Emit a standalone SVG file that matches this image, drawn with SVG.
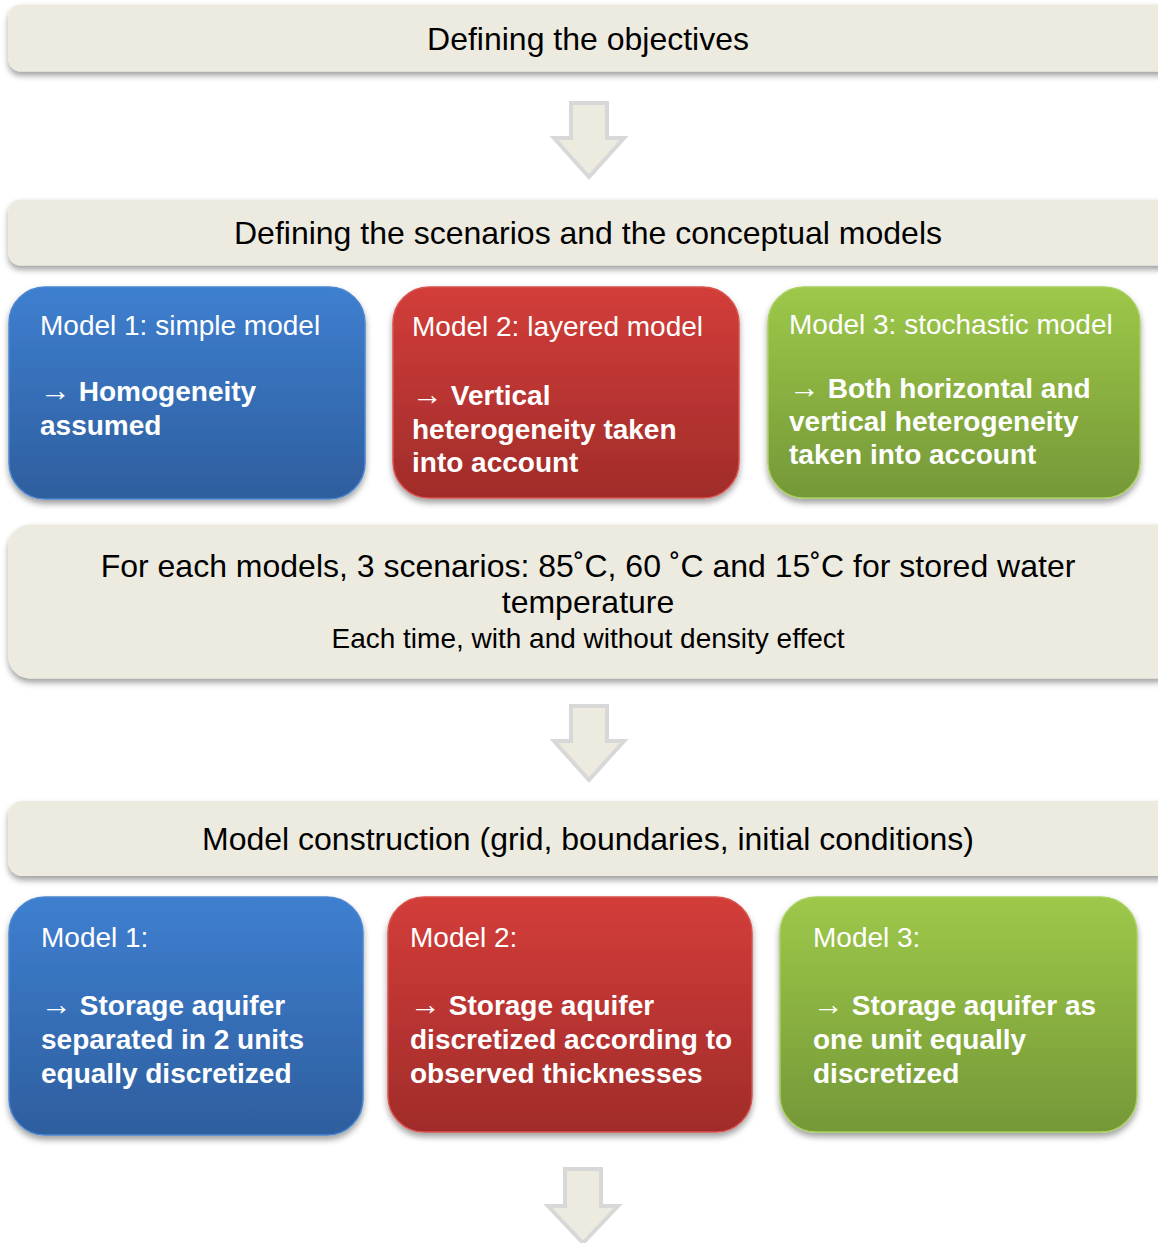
<svg xmlns="http://www.w3.org/2000/svg" width="1158" height="1243" viewBox="0 0 1158 1243">
  <defs>
    <filter id="shadow" x="-5%" y="-10%" width="110%" height="130%">
      <feDropShadow dx="0" dy="4" stdDeviation="3" flood-color="#000" flood-opacity="0.38"/>
    </filter>
    <linearGradient id="gBlue" x1="0" y1="0" x2="0" y2="1">
      <stop offset="0" stop-color="#3e7fd0"/>
      <stop offset="1" stop-color="#2e5e9e"/>
    </linearGradient>
    <linearGradient id="gRed" x1="0" y1="0" x2="0" y2="1">
      <stop offset="0" stop-color="#d33d39"/>
      <stop offset="1" stop-color="#a02c2a"/>
    </linearGradient>
    <linearGradient id="gGreen" x1="0" y1="0" x2="0" y2="1">
      <stop offset="0" stop-color="#9dc849"/>
      <stop offset="1" stop-color="#759838"/>
    </linearGradient>
  </defs>
  <style>
    .banner { fill: #edebe0; filter: url(#shadow); }
    .btxt { font-family: "Liberation Sans", Arial, sans-serif; font-size: 32px; fill: #000; text-anchor: middle; }
    .btxt2 { font-family: "Liberation Sans", Arial, sans-serif; font-size: 28px; fill: #000; text-anchor: middle; }
    .blue { fill: url(#gBlue); stroke: #4a86cf; stroke-width: 1.5; filter: url(#shadow); }
    .red { fill: url(#gRed); stroke: #d9524e; stroke-width: 1.5; filter: url(#shadow); }
    .green { fill: url(#gGreen); stroke: #a8cf5e; stroke-width: 1.5; filter: url(#shadow); }
    .title { font-family: "Liberation Sans", Arial, sans-serif; font-size: 28px; fill: #fff; }
    .body { font-family: "Liberation Sans", Arial, sans-serif; font-size: 28px; font-weight: bold; fill: #fff; }
    .arr { font-weight: normal; font-size: 31px; }
    .flow { fill: #edebe0; stroke: #d8d8d8; stroke-width: 4; stroke-linejoin: miter; }
  </style>

  <!-- stage banners -->
  <g id="objectives">
    <rect class="banner" x="8.5" y="4.5" width="1170" height="67" rx="12"/>
    <text class="btxt" x="588" y="50">Defining the objectives</text>
  </g>
  <g id="scenarios">
    <rect class="banner" x="8.5" y="199.5" width="1170" height="66" rx="12"/>
    <text class="btxt" x="588" y="244">Defining the scenarios and the conceptual models</text>
  </g>

  <!-- conceptual models -->
  <g id="model1-concept">
    <rect class="blue" x="9" y="287" width="356" height="212" rx="36"/>
    <text class="title" x="40" y="335">Model 1: simple model</text>
    <text class="body" x="40" y="401"><tspan class="arr">→</tspan> Homogeneity</text>
    <text class="body" x="40" y="435">assumed</text>
  </g>
  <g id="model2-concept">
    <rect class="red" x="393" y="287" width="346" height="211" rx="36"/>
    <text class="title" x="412" y="336">Model 2: layered model</text>
    <text class="body" x="412" y="405"><tspan class="arr">→</tspan> Vertical</text>
    <text class="body" x="412" y="438.5">heterogeneity taken</text>
    <text class="body" x="412" y="472">into account</text>
  </g>
  <g id="model3-concept">
    <rect class="green" x="768" y="287" width="372" height="211" rx="36"/>
    <text class="title" x="789" y="334">Model 3: stochastic model</text>
    <text class="body" x="789" y="398"><tspan class="arr">→</tspan> Both horizontal and</text>
    <text class="body" x="789" y="431">vertical heterogeneity</text>
    <text class="body" x="789" y="464">taken into account</text>
  </g>

  <g id="scenario-set">
    <rect class="banner" x="8.5" y="524.5" width="1170" height="154" rx="22"/>
    <text class="btxt" x="588" y="577">For each models, 3 scenarios: 85˚C, 60 ˚C and 15˚C for stored water</text>
    <text class="btxt" x="588" y="613">temperature</text>
    <text class="btxt2" x="588" y="648">Each time, with and without density effect</text>
  </g>

  <g id="construction">
    <rect class="banner" x="8.5" y="801" width="1170" height="75" rx="14"/>
    <text class="btxt" x="588" y="850">Model construction (grid, boundaries, initial conditions)</text>
  </g>

  <!-- construction per model -->
  <g id="model1-build">
    <rect class="blue" x="9" y="897" width="354" height="238" rx="36"/>
    <text class="title" x="41" y="947">Model 1:</text>
    <text class="body" x="41" y="1015"><tspan class="arr">→</tspan> Storage aquifer</text>
    <text class="body" x="41" y="1049">separated in 2 units</text>
    <text class="body" x="41" y="1083">equally discretized</text>
  </g>
  <g id="model2-build">
    <rect class="red" x="388" y="897" width="364" height="235" rx="36"/>
    <text class="title" x="410" y="947">Model 2:</text>
    <text class="body" x="410" y="1015"><tspan class="arr">→</tspan> Storage aquifer</text>
    <text class="body" x="410" y="1049">discretized according to</text>
    <text class="body" x="410" y="1083">observed thicknesses</text>
  </g>
  <g id="model3-build">
    <rect class="green" x="780" y="897" width="357" height="235" rx="36"/>
    <text class="title" x="813" y="947">Model 3:</text>
    <text class="body" x="813" y="1015"><tspan class="arr">→</tspan> Storage aquifer as</text>
    <text class="body" x="813" y="1049">one unit equally</text>
    <text class="body" x="813" y="1083">discretized</text>
  </g>

  <!-- block arrows between stages -->
  <g id="connectors">
    <path class="flow" d="M571 103 H607 V138 H624 L589 177 L554 138 H571 Z"/>
    <path class="flow" d="M571 706 H607 V741 H624 L589 780 L554 741 H571 Z"/>
    <path class="flow" d="M565 1169 H601 V1206 H618 L583 1243 L548 1206 H565 Z"/>
  </g>
</svg>
